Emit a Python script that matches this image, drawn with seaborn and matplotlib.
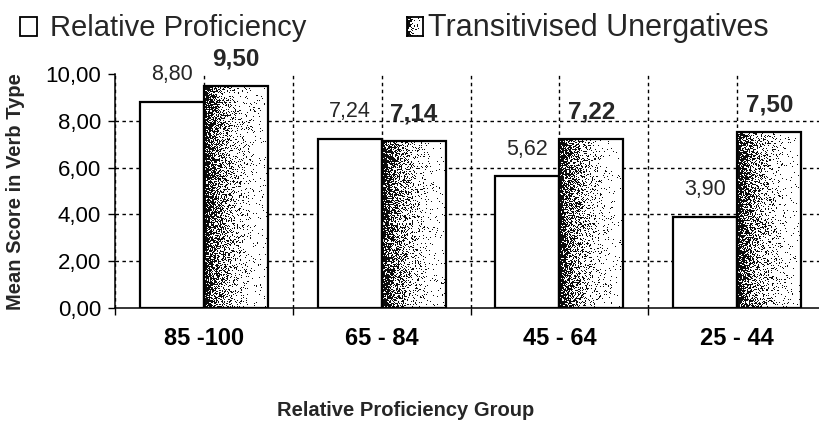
import numpy as np
import pandas as pd
import matplotlib
matplotlib.use("Agg")
import matplotlib.pyplot as plt
from matplotlib.patches import Rectangle
from matplotlib.ticker import FixedLocator, FixedFormatter, FuncFormatter
import seaborn as sns

# Mean scores per proficiency group
groups = ["85 -100", "65 - 84", "45 - 64", "25 - 44"]
relative_prof = [8.80, 7.24, 5.62, 3.90]
transitivised = [9.50, 7.14, 7.22, 7.50]
series_names = ["Relative Proficiency", "Transitivised Unergatives"]
y_ticks = [0, 2, 4, 6, 8, 10]

sns.set_style("white")
plt.rcParams["font.family"] = ["Liberation Sans", "DejaVu Sans"]

W, H = 819, 421
fig = plt.figure(figsize=(W / 100, H / 100), dpi=100)
ax = fig.add_axes([115 / W, (H - 308) / H, 1 - 115 / W, (308 - 74) / H])

df = pd.DataFrame({
    "group": groups * 2,
    "score": relative_prof + transitivised,
    "series": [series_names[0]] * len(groups) + [series_names[1]] * len(groups),
})

sns.barplot(data=df, x="group", y="score", hue="series", hue_order=series_names,
            palette=["white", "white"], saturation=1, width=0.72,
            edgecolor="black", linewidth=1.6, legend=False, ax=ax)


def stipple(h, w, seed=0.0):
    """Dotted shading: dense on the left, fading out to the right."""
    xx, yy = np.meshgrid(np.arange(w), np.arange(h))
    t = xx / max(w - 1, 1)
    density = 0.85 * (1 - t) ** 2.4 + 0.03
    hsh = np.abs(np.modf(np.sin(xx * 12.9898 + yy * 78.233 + seed * 37.719) * 43758.5453)[0])
    return np.where(hsh < density, 0.05, 1.0)


px_per_unit = (308 - 74) / 10.0
for i, patch in enumerate(ax.containers[1]):
    x0 = patch.get_x()
    w = patch.get_width()
    h = patch.get_height()
    patch.set_facecolor("none")
    patch.set_zorder(3)
    img = stipple(max(int(round(h * px_per_unit)), 2), 64, seed=i + 1)
    im = ax.imshow(img, extent=(x0, x0 + w, 0, h), cmap="gray", vmin=0, vmax=1,
                   interpolation="nearest", aspect="auto", zorder=2)
    im.set_clip_path(patch)
for patch in ax.containers[0]:
    patch.set_zorder(3)

# Value labels
for patch, v in zip(ax.containers[0], relative_prof):
    ax.annotate(f"{v:.2f}".replace(".", ","),
                (patch.get_x() + patch.get_width() / 2, v),
                xytext=(0, 19.5), textcoords="offset points",
                ha="center", va="center", fontsize=15.5, zorder=5)
for patch, v in zip(ax.containers[1], transitivised):
    ax.annotate(f"{v:.2f}".replace(".", ","),
                (patch.get_x() + patch.get_width() / 2, v),
                xytext=(0, 19.5), textcoords="offset points",
                ha="center", va="center", fontsize=17.5, fontweight="bold", zorder=5)

ax.set_xlim(-0.5, 3.46)
ax.set_ylim(0, 10)

# Axis ticks: marks at group boundaries, labels at group centres
ax.xaxis.set_major_locator(FixedLocator([-0.5, 0.5, 1.5, 2.5, 3.5]))
ax.xaxis.set_major_formatter(FixedFormatter([""] * 5))
ax.xaxis.set_minor_locator(FixedLocator(range(len(groups))))
ax.xaxis.set_minor_formatter(FixedFormatter(groups))
ax.tick_params(axis="x", which="major", direction="out", length=5, width=1,
               color="black", bottom=True)
ax.tick_params(axis="x", which="minor", length=0, pad=14, labelsize=17,
               labelcolor="black", bottom=True)
for lbl in ax.get_xticklabels(minor=True):
    lbl.set_fontweight("bold")

ax.yaxis.set_major_locator(FixedLocator(y_ticks))
ax.yaxis.set_major_formatter(FuncFormatter(lambda v, p: f"{v:.2f}".replace(".", ",")))
ax.tick_params(axis="y", direction="out", length=5, width=1, color="black",
               pad=5, labelsize=16, labelcolor="black", left=True)

ax.set_xlabel("")
ax.set_ylabel("")

# Dashed grid behind the bars
ax.set_axisbelow(True)
grid_kw = dict(color="black", linestyle=(0, (2.5, 2.5)), linewidth=1.0)
ax.grid(True, axis="y", which="major", **grid_kw)
ax.grid(True, axis="x", which="both", **grid_kw)
for tick in ax.yaxis.get_major_ticks():
    if tick.get_loc() in (0, 10):
        tick.gridline.set_visible(False)

for side in ("top", "right"):
    ax.spines[side].set_visible(False)
for side in ("left", "bottom"):
    ax.spines[side].set_color("black")
    ax.spines[side].set_linewidth(1.1)

# Axis titles
fig.text(16 / W, 1 - 192 / H, "Mean Score in Verb Type", rotation=90,
         ha="center", va="center", fontsize=14.5, fontweight="bold")
fig.text(406 / W, 1 - 410 / H, "Relative Proficiency Group",
         ha="center", va="center", fontsize=14.5, fontweight="bold")

# Legend across the top
fig.add_artist(Rectangle((20 / W, 1 - 36 / H), 17 / W, 19 / H,
                         transform=fig.transFigure, facecolor="white",
                         edgecolor="black", linewidth=1.3))
fig.text(50 / W, 1 - 36 / H, series_names[0], ha="left", va="baseline", fontsize=21)

sw = fig.add_axes([407 / W, 1 - 36 / H, 16 / W, 19 / H])
sw.imshow(stipple(19, 16, seed=9), cmap="gray", vmin=0, vmax=1,
          interpolation="nearest", aspect="auto")
sw.set_xticks([])
sw.set_yticks([])
for s in sw.spines.values():
    s.set_visible(True)
    s.set_color("black")
    s.set_linewidth(1.3)
fig.text(428 / W, 1 - 36 / H, series_names[1], ha="left", va="baseline", fontsize=22)

fig.savefig("out.png", dpi=100)
